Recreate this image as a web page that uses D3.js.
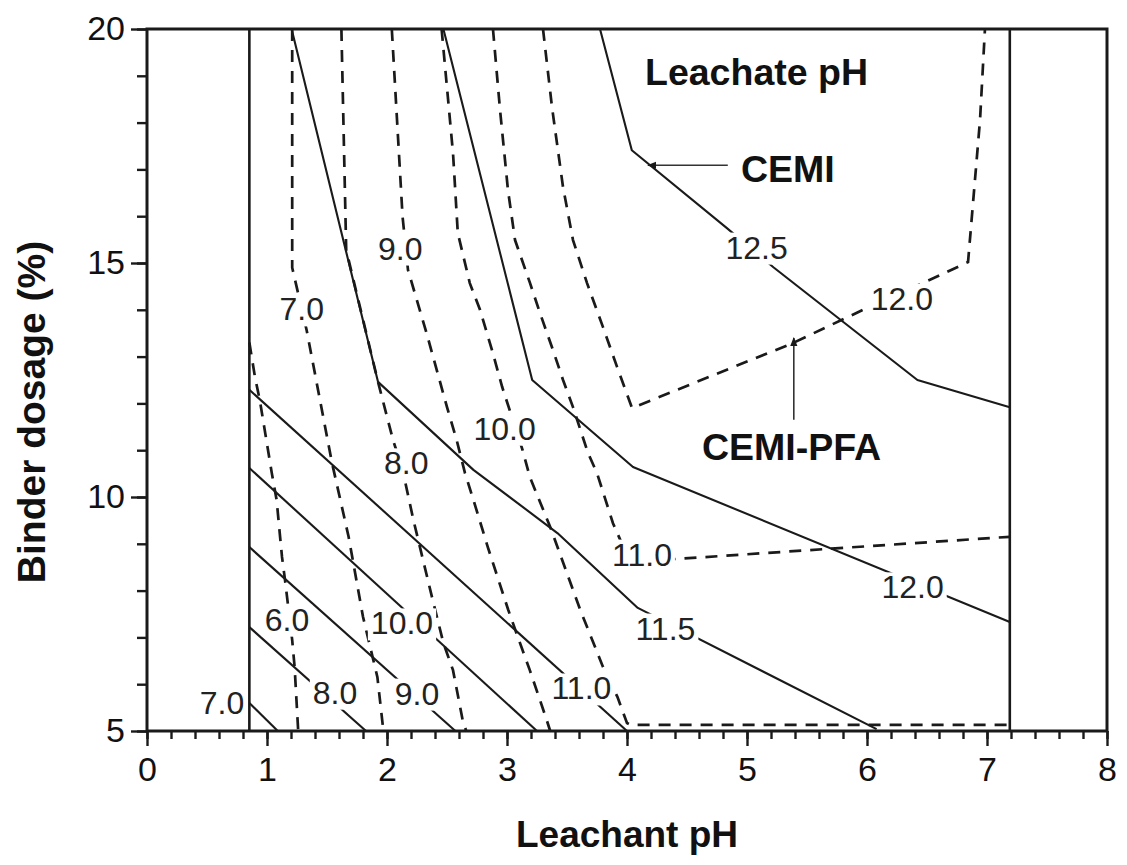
<!DOCTYPE html>
<html>
<head>
<meta charset="utf-8">
<script src="https://cdn.jsdelivr.net/npm/d3@7"></script>
<style>
  html, body { margin: 0; padding: 0; background: #fff; }
  svg { display: block; font-family: "Liberation Sans", Arial, sans-serif; }
</style>
</head>
<body>
<svg id="chart" width="1127" height="865"></svg>
<script>
// Leachate pH contours over leachant pH (x) and binder dosage (y)
const xDomain = [0, 8];
const yDomain = [5, 20];
const xMajorTicks = [0, 1, 2, 3, 4, 5, 6, 7, 8];
const yMajorTicks = [5, 10, 15, 20];
const testedRange = [0.853, 7.19];   // leachant pH covered by the tests

// CEMI contours (solid), points as [leachant pH, binder %]
const cemi70  = [[0.853, 5.60], [1.09, 5.0]];
const cemi80  = [[0.853, 7.22], [1.825, 5.0]];
const cemi90  = [[0.853, 8.93], [2.57, 5.0]];
const cemi100 = [[0.853, 10.62], [3.25, 5.0]];
const cemi110 = [[0.853, 12.29], [4.0, 5.0]];
const cemi115 = [[1.205, 20], [1.925, 12.46], [2.72, 10.58], [3.42, 9.23], [4.09, 7.63], [6.08, 5.04]];
const cemi120 = [[2.47, 20], [3.21, 12.5], [4.05, 10.64], [7.19, 7.33]];
const cemi125 = [[3.775, 20], [4.04, 17.41], [4.83, 15.75], [5.22, 14.91], [6.42, 12.5], [7.19, 11.92]];

// CEMI-PFA contours (dashed)
const pfa60  = [[0.853, 13.3], [0.90, 12.56], [0.94, 12.07], [1.04, 10.51], [1.08, 9.94], [1.125, 8.72],
                [1.15, 8.23], [1.21, 6.94], [1.23, 6.37], [1.26, 5.0]];
const pfa70  = [[1.21, 20], [1.21, 14.9], [1.33, 13.57], [1.54, 10.75], [1.68, 9.15], [1.80, 7.44],
                [1.92, 6.15], [1.97, 5.0]];
const pfa80  = [[1.62, 20], [1.66, 15.28], [1.925, 12.46], [2.05, 11.22], [2.13, 10.58], [2.22, 9.51],
                [2.375, 7.86], [2.47, 6.88], [2.55, 6.3], [2.63, 5.24], [2.66, 5.0]];
const pfa90  = [[2.04, 20], [2.13, 15.98], [2.175, 14.85], [2.33, 13.5], [2.5, 11.92], [2.58, 11.22],
                [2.65, 10.51], [2.72, 9.94], [2.84, 8.93], [3.01, 7.59], [3.09, 7.01], [3.19, 6.3],
                [3.275, 5.66], [3.33, 5.24], [3.36, 5.0]];
const pfa100 = [[2.455, 20], [2.55, 17.35], [2.59, 15.64], [2.69, 14.57], [2.775, 14.0], [2.875, 13.14],
                [2.96, 12.35], [3.13, 11.0], [3.19, 10.43], [3.36, 9.36], [3.61, 7.59], [3.8, 6.37],
                [3.92, 5.73], [4.0, 5.17], [4.03, 5.13], [7.19, 5.13]];
const pfa110 = [[2.883, 20], [2.942, 18.27], [3.008, 16.56], [3.067, 15.49], [3.192, 14.57], [3.275, 13.93],
                [3.383, 13.14], [3.467, 12.5], [3.55, 11.92], [3.675, 10.94], [3.75, 10.51], [3.883, 9.44],
                [4.025, 8.61], [7.19, 9.15]];
const pfa120 = [[3.3, 20], [3.375, 18.33], [3.467, 16.62], [3.55, 15.49], [3.667, 14.57], [3.8, 13.63],
                [3.917, 12.78], [4.042, 11.9], [5.383, 13.29], [5.967, 14.0], [6.525, 14.64], [6.842, 15.02],
                [6.942, 18.06], [6.983, 20]];

// Contour labels: [text, leachant pH, binder %]
const cemiLabels = [
  ["7.0", 0.625, 5.6], ["8.0", 1.567, 5.83], ["9.0", 2.25, 5.81], ["10.0", 2.125, 7.31],
  ["11.0", 3.62, 5.92], ["11.5", 4.32, 7.2], ["12.0", 6.38, 8.08], ["12.5", 5.08, 15.34]
];
const pfaLabels = [
  ["6.0", 1.167, 7.39], ["7.0", 1.29, 14.02], ["8.0", 2.16, 10.73], ["9.0", 2.11, 15.32],
  ["10.0", 2.98, 11.47], ["11.0", 4.125, 8.78], ["12.0", 6.29, 14.25]
];

// Annotation arrows: [tail, head]
const cemiArrow = [[4.84, 17.09], [4.175, 17.09]];
const pfaArrow  = [[5.39, 11.65], [5.39, 13.4]];

const cemiLines = [cemi70, cemi80, cemi90, cemi100, cemi110, cemi115, cemi120, cemi125];
const pfaLines  = [pfa60, pfa70, pfa80, pfa90, pfa100, pfa110, pfa120];

const svg = d3.select("#chart");
const x = d3.scaleLinear().domain(xDomain).range([147, 1107]);
const y = d3.scaleLinear().domain(yDomain).range([731, 29]);
const ink = "#1a1a1a";

const path = d3.line().x(d => x(d[0])).y(d => y(d[1]));

// boundaries of the tested leachant pH range
svg.append("g").selectAll("line").data(testedRange).join("line")
  .attr("x1", d => x(d)).attr("x2", d => x(d))
  .attr("y1", y(yDomain[0])).attr("y2", y(yDomain[1]))
  .attr("stroke", ink).attr("stroke-width", 2.6);

svg.append("g").selectAll("path").data(cemiLines).join("path")
  .attr("d", path).attr("fill", "none")
  .attr("stroke", ink).attr("stroke-width", 2.1).attr("stroke-linejoin", "round");

svg.append("g").selectAll("path").data(pfaLines).join("path")
  .attr("d", path).attr("fill", "none")
  .attr("stroke", ink).attr("stroke-width", 2.7)
  .attr("stroke-dasharray", "12,9");

// contour labels on a white patch that breaks the line
const labelLayer = svg.append("g");
const allLabels = cemiLabels.concat(pfaLabels);
const labelGroups = labelLayer.selectAll("g").data(allLabels).join("g");
labelGroups.append("text")
  .attr("x", d => x(d[1])).attr("y", d => y(d[2]))
  .attr("text-anchor", "middle").attr("dy", "0.36em")
  .attr("font-size", 32).attr("fill", "#222")
  .text(d => d[0]);
labelGroups.each(function () {
  const g = d3.select(this);
  const b = g.select("text").node().getBBox();
  g.insert("rect", "text")
    .attr("x", b.x - 3).attr("y", b.y + 3)
    .attr("width", b.width + 6).attr("height", b.height - 4)
    .attr("fill", "#fff");
});

// axes: minor and major ticks
const fmt = d3.format("d");
const bottom = svg.append("g").attr("transform", `translate(0,${y(yDomain[0])})`);
bottom.append("g").call(d3.axisBottom(x).tickValues(x.ticks(40)).tickSize(8).tickFormat(""));
bottom.append("g").call(d3.axisBottom(x).tickValues(xMajorTicks).tickSize(15).tickPadding(11).tickFormat(fmt));

const left = svg.append("g").attr("transform", `translate(${x(xDomain[0])},0)`);
left.append("g").call(d3.axisLeft(y).tickValues(y.ticks(15)).tickSize(10).tickFormat(""));
left.append("g").call(d3.axisLeft(y).tickValues(yMajorTicks).tickSize(16).tickPadding(6).tickFormat(fmt));

svg.selectAll(".domain").remove();
svg.selectAll(".tick line").attr("stroke", ink).attr("stroke-width", 2.4);
svg.selectAll(".tick text")
  .attr("font-size", 34).attr("font-family", "Liberation Sans, Arial, sans-serif").attr("fill", "#111");

// plot frame
svg.append("rect")
  .attr("x", x(xDomain[0])).attr("y", y(yDomain[1]))
  .attr("width", x(xDomain[1]) - x(xDomain[0])).attr("height", y(yDomain[0]) - y(yDomain[1]))
  .attr("fill", "none").attr("stroke", ink).attr("stroke-width", 3);

// axis titles
svg.append("text")
  .attr("x", (x(xDomain[0]) + x(xDomain[1])) / 2).attr("y", 847)
  .attr("text-anchor", "middle").attr("font-size", 37).attr("font-weight", "bold").attr("fill", "#111")
  .text("Leachant pH");
svg.append("text")
  .attr("transform", "translate(45,412) rotate(-90)")
  .attr("text-anchor", "middle").attr("font-size", 39).attr("font-weight", "bold").attr("fill", "#111")
  .text("Binder dosage (%)");

// annotations
svg.append("text").attr("x", 645).attr("y", 85)
  .attr("font-size", 37.5).attr("font-weight", "bold").attr("fill", "#111").text("Leachate pH");
svg.append("text").attr("x", 741).attr("y", 182)
  .attr("font-size", 37.5).attr("font-weight", "bold").attr("fill", "#111").text("CEMI");
svg.append("text").attr("x", 702).attr("y", 460)
  .attr("font-size", 37.5).attr("font-weight", "bold").attr("fill", "#111").text("CEMI-PFA");

svg.append("defs").append("marker")
  .attr("id", "head").attr("viewBox", "0 0 10 10").attr("refX", 9).attr("refY", 5)
  .attr("markerWidth", 9).attr("markerHeight", 9).attr("markerUnits", "userSpaceOnUse")
  .attr("orient", "auto")
  .append("path").attr("d", "M0,1 L10,5 L0,9 Z").attr("fill", ink);

svg.append("g").selectAll("path").data([cemiArrow, pfaArrow]).join("path")
  .attr("d", path).attr("fill", "none")
  .attr("stroke", "#333").attr("stroke-width", 1.6)
  .attr("marker-end", "url(#head)");
</script>
</body>
</html>
